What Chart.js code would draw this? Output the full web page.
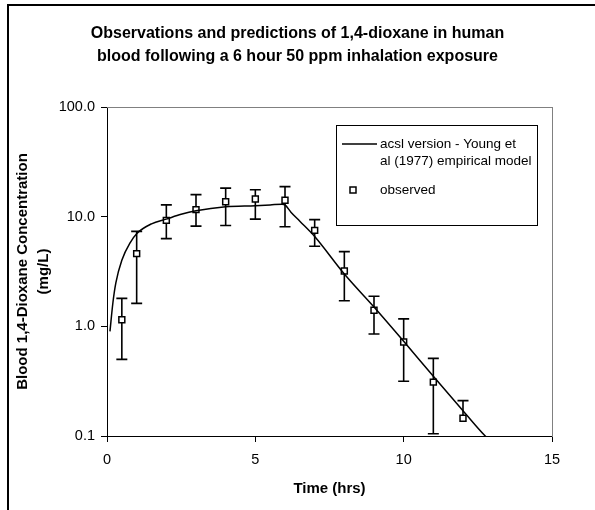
<!DOCTYPE html>
<html>
<head>
<meta charset="utf-8">
<script src="https://cdn.jsdelivr.net/npm/chart.js@4/dist/chart.umd.min.js"></script>
<style>
  html, body { margin: 0; padding: 0; background: #fff; }
  #wrap { position: relative; width: 595px; height: 510px; }
  canvas { display: block; }
</style>
</head>
<body>
<div id="wrap"><canvas id="c" width="595" height="510"></canvas></div>
<script>
// ---- Data ----
const titleLines = ['Observations and predictions of 1,4-dioxane in human',
                    'blood following a 6 hour 50 ppm inhalation exposure'];
const yTitleLines = ['Blood 1,4-Dioxane Concentration', '(mg/L)'];
const xTitle = 'Time (hrs)';
const modelLabel = ['acsl version - Young et', 'al (1977) empirical model'];
const obsLabel = 'observed';

// model curve (acsl version - Young et al 1977)
const modelTime = [0.1, 0.2, 0.3, 0.5, 0.8, 1.0, 1.5, 2.0, 2.5, 3.0, 4.0, 5.0, 5.5, 5.9, 6.0, 6.2, 6.5, 7.0, 8.0, 9.0, 10.0, 11.0, 12.0, 12.75, 12.9];
const modelConc = [0.9, 1.65, 2.5, 4.0, 5.9, 7.0, 8.6, 9.5, 10.5, 11.3, 12.3, 12.6, 12.8, 13.0, 12.8, 11.0, 9.1, 6.6, 3.0, 1.5, 0.73, 0.35, 0.17, 0.1, 0.092];

// observations with error bars
const obsTime  = [0.5, 1, 2, 3, 4, 5, 6, 7, 8, 9, 10, 11, 12];
const obsConc  = [1.15, 4.6, 9.25, 11.6, 13.7, 14.5, 14.1, 7.5, 3.2, 1.4, 0.72, 0.31, 0.145];
const obsUpper = [1.8, 7.35, 12.8, 15.9, 18.2, 17.6, 18.8, 9.4, 4.8, 1.88, 1.17, 0.51, 0.21];
const obsLower = [0.5, 1.62, 6.3, 8.2, 8.3, 9.5, 8.1, 5.37, 1.71, 0.85, 0.316, 0.105, 0.145];

// axis ticks
const yTickValues = [0.1, 1, 10, 100];
const xTickValues = [0, 5, 10, 15];

// ---- Chart ----
const FONT = "'Liberation Sans', Arial, Helvetica, sans-serif";
const TITLE_PAD_TOP = 22.5, TITLE_PAD_BOTTOM = 10, TITLE_SIZE = 16, TITLE_LH = 1.44;
const titleBoxH = TITLE_PAD_TOP + TITLE_PAD_BOTTOM + titleLines.length * TITLE_SIZE * TITLE_LH;

const modelData = modelTime.map((t, i) => ({ x: t, y: modelConc[i] }));
const obsData = obsTime.map((t, i) => ({ x: t, y: obsConc[i] }));

const framePlugin = {
  id: 'frame',
  beforeDraw(chart) {
    const ctx = chart.ctx;
    ctx.save();
    ctx.fillStyle = '#fff';
    ctx.fillRect(0, 0, chart.width, chart.height);
    ctx.strokeStyle = '#000';
    ctx.lineWidth = 2;
    ctx.beginPath();
    ctx.moveTo(8, chart.height + 2);
    ctx.lineTo(8, 5);
    ctx.lineTo(chart.width + 2, 5);
    ctx.stroke();
    ctx.restore();
  }
};

const errorBarPlugin = {
  id: 'errorBars',
  beforeDatasetDraw(chart, args) {
    if (args.index !== 1) return;
    const ctx = chart.ctx;
    const xs = chart.scales.x, ys = chart.scales.y;
    const a = chart.chartArea;
    ctx.save();
    ctx.beginPath();
    ctx.rect(a.left - 10, a.top, a.right - a.left + 20, a.bottom - a.top + 1);
    ctx.clip();
    ctx.strokeStyle = '#000';
    ctx.lineWidth = 1.6;
    const cap = 5.5;
    obsTime.forEach((t, i) => {
      const px = xs.getPixelForValue(t);
      const pTop = ys.getPixelForValue(obsUpper[i]);
      const pBot = ys.getPixelForValue(obsLower[i]);
      ctx.beginPath();
      ctx.moveTo(px, pTop); ctx.lineTo(px, pBot);
      ctx.moveTo(px - cap, pTop); ctx.lineTo(px + cap, pTop);
      if (obsLower[i] < obsConc[i]) { ctx.moveTo(px - cap, pBot); ctx.lineTo(px + cap, pBot); }
      ctx.stroke();
    });
    ctx.restore();
  }
};

const legendPlugin = {
  id: 'boxLegend',
  afterDraw(chart) {
    const ctx = chart.ctx;
    ctx.save();
    const L = 336.5, T = 125.5, R = 537.5, B = 225.5;
    ctx.fillStyle = '#fff';
    ctx.fillRect(L, T, R - L, B - T);
    ctx.strokeStyle = '#000';
    ctx.lineWidth = 1;
    ctx.strokeRect(L, T, R - L, B - T);
    // line sample
    ctx.lineWidth = 1.5;
    ctx.beginPath();
    ctx.moveTo(342, 144); ctx.lineTo(377, 144);
    ctx.stroke();
    ctx.fillStyle = '#000';
    ctx.font = '13.5px ' + FONT;
    ctx.textBaseline = 'middle';
    ctx.textAlign = 'left';
    ctx.fillText(modelLabel[0], 380, 144);
    ctx.fillText(modelLabel[1], 380, 161);
    // marker sample
    ctx.lineWidth = 1.5;
    ctx.fillStyle = '#fff';
    ctx.fillRect(350, 187, 6, 6);
    ctx.strokeRect(350, 187, 6, 6);
    ctx.fillStyle = '#000';
    ctx.fillText(obsLabel, 380, 190);
    ctx.restore();
  }
};

new Chart(document.getElementById('c'), {
  type: 'scatter',
  data: {
    datasets: [
      {
        label: modelLabel.join(' '),
        data: modelData,
        showLine: true,
        borderColor: '#000',
        borderWidth: 1.5,
        pointRadius: 0,
        cubicInterpolationMode: 'monotone',
        fill: false
      },
      {
        label: obsLabel,
        data: obsData,
        showLine: false,
        pointStyle: 'rect',
        pointRadius: 4.2,
        pointBackgroundColor: '#fff',
        pointBorderColor: '#000',
        pointBorderWidth: 1.5
      }
    ]
  },
  options: {
    responsive: false,
    animation: false,
    devicePixelRatio: 1,
    layout: { padding: 0 },
    plugins: {
      legend: { display: false },
      tooltip: { enabled: false },
      title: {
        display: true,
        text: titleLines,
        color: '#000',
        font: { family: FONT, size: TITLE_SIZE, weight: 'bold', lineHeight: TITLE_LH },
        padding: { top: TITLE_PAD_TOP, bottom: TITLE_PAD_BOTTOM }
      }
    },
    scales: {
      x: {
        type: 'linear',
        position: 'bottom',
        min: 0, max: 15,
        afterBuildTicks: s => { s.ticks = xTickValues.map(v => ({ value: v })); },
        ticks: { color: '#000', font: { family: FONT, size: 14.5 }, padding: 9, maxRotation: 0 },
        grid: { display: true, drawOnChartArea: false, drawTicks: true, tickLength: 6, color: '#000', lineWidth: 1 },
        border: { display: true, color: '#000', width: 1 },
        title: { display: true, text: xTitle, color: '#000',
                 font: { family: FONT, size: 15, weight: 'bold', lineHeight: 1.35 },
                 padding: { top: 0, bottom: 11 } },
        afterFit: s => { s.height = 74; }
      },
      y: {
        type: 'logarithmic',
        position: 'left',
        min: 0.1, max: 100,
        afterBuildTicks: s => { s.ticks = yTickValues.map(v => ({ value: v })); },
        ticks: { color: '#000', font: { family: FONT, size: 14.5 }, padding: 6,
                 callback: v => Number(v).toFixed(1) },
        grid: { display: true, drawOnChartArea: false, drawTicks: true, tickLength: 6, color: '#000', lineWidth: 1 },
        border: { display: true, color: '#000', width: 1 },
        title: { display: true, text: yTitleLines, color: '#000',
                 font: { family: FONT, size: 15, weight: 'bold', lineHeight: 1.35 },
                 padding: { top: 13, bottom: 0 } },
        afterFit: s => { s.width = 107; }
      },
      xTop: {
        type: 'linear',
        position: 'top',
        min: 0, max: 15,
        display: true,
        ticks: { display: false },
        grid: { display: false },
        border: { display: true, color: '#808080', width: 1 },
        afterFit: s => { s.height = 107 - titleBoxH; }
      },
      yRight: {
        type: 'linear',
        position: 'right',
        min: 0, max: 1,
        display: true,
        ticks: { display: false },
        grid: { display: false },
        border: { display: true, color: '#808080', width: 1 },
        afterFit: s => { s.width = 43; }
      }
    }
  },
  plugins: [framePlugin, errorBarPlugin, legendPlugin]
});
</script>
</body>
</html>
